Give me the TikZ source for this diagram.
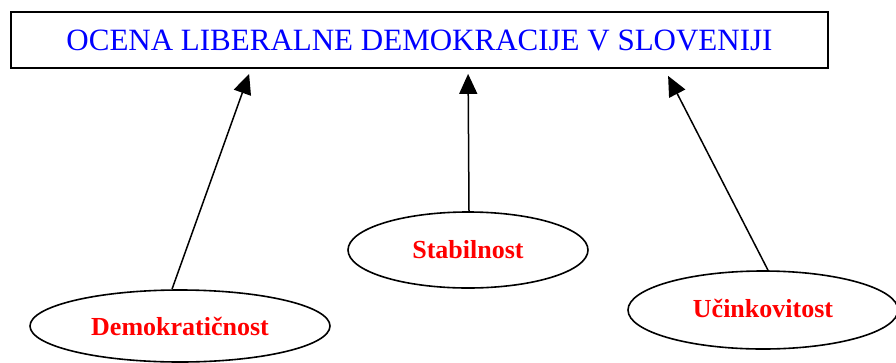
\documentclass[tikz,border=0pt]{standalone}
\usepackage{fontspec}
\setmainfont{Liberation Serif}
\usetikzlibrary{shapes.geometric,arrows.meta,calc}
\begin{document}
\begin{tikzpicture}[x=1pt,y=-1pt,
  titlebox/.style={draw,line width=1.8pt,minimum width=817pt,minimum height=56pt,inner sep=0pt,
    font=\fontsize{31}{33}\selectfont,text=blue},
  oval/.style={draw,ellipse,line width=1.6pt,inner sep=0pt,font=\fontsize{26}{28}\selectfont\bfseries,text=red},
  arr/.style={line width=1.5pt,-{Triangle[length=20pt,width=18pt]}}]
\useasboundingbox (0,0) rectangle (896,362);
\node[titlebox] (title) at (419.5,40) {OCENA LIBERALNE DEMOKRACIJE V SLOVENIJI};
\node[oval,minimum width=300pt,minimum height=72pt] (demo) at (180,326) {Demokratičnost};
\node[oval,minimum width=240pt,minimum height=76pt] (stab) at (468,250) {\raisebox{2pt}{Stabilnost}};
\node[oval,minimum width=270pt,minimum height=78pt] (ucin) at (763,310) {\raisebox{4pt}{Učinkovitost}};
\draw[arr] ($(demo.north)+(-8,0)$) -- ($(title.south west)+(239,5)$);
\draw[arr] ($(stab.north)+(1,0)$) -- ($(title.south west)+(458,5)$);
\draw[arr] ($(ucin.north)+(5,0)$) -- ($(title.south west)+(658,7)$);
\end{tikzpicture}
\end{document}
